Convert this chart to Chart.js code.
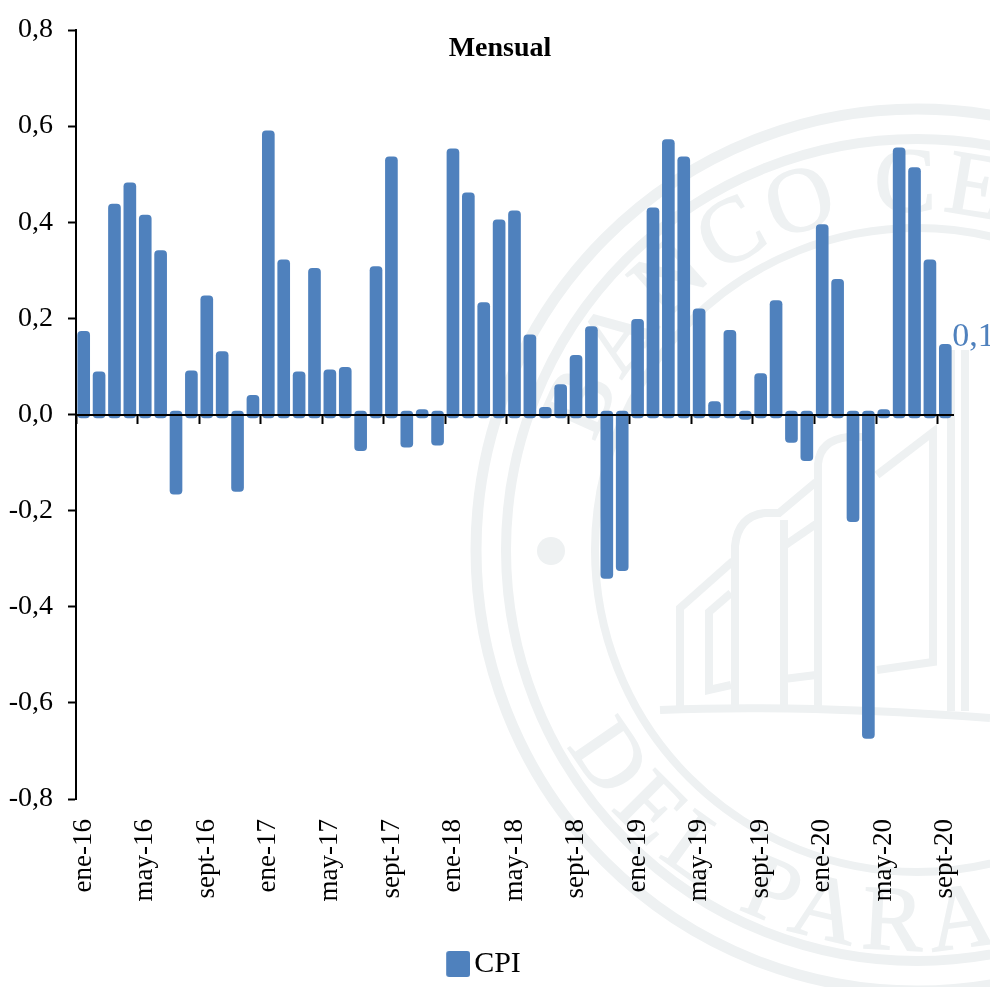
<!DOCTYPE html>
<html lang="es">
<head>
<meta charset="utf-8">
<title>Mensual</title>
<script src="https://cdn.jsdelivr.net/npm/chart.js@4"></script>
<style>
  html, body { margin: 0; background: #fff; }
  #wrap { position: relative; width: 990px; height: 987px; overflow: hidden; }
  #seal { position: absolute; left: 0; top: 0; }
  #seal .ln { fill: none; stroke: #eef1f2; stroke-width: 8; }
  #seal text { fill: #eef1f2; stroke: #eef1f2; stroke-width: 1.5; font-family: "Liberation Serif", serif; font-size: 92px; }
  canvas { position: absolute; left: 0; top: 0; }
</style>
</head>
<body>
<div id="wrap">
  <!-- Wasserzeichen (Siegel) hinter dem Chart -->
  <svg id="seal" width="990" height="987" viewBox="0 0 990 987">
    <defs>
      <path id="arcTop" d="M 578 550 A 339 339 0 0 1 1256 550"/>
      <path id="arcBottom" d="M 517 550 A 400 400 0 0 0 1317 550"/>
    </defs>
    <circle class="ln" style="stroke-width:11" cx="917" cy="550" r="441"/>
    <circle class="ln" style="stroke-width:10" cx="917" cy="550" r="411"/>
    <circle class="ln" cx="917" cy="550" r="322"/>
    <circle cx="551" cy="551" r="14" fill="#eef1f2"/>
    <text letter-spacing="6"><textPath href="#arcTop" startOffset="109">BANCO CENTRAL</textPath></text>
    <text letter-spacing="10"><textPath href="#arcBottom" startOffset="204">DEL PARAGUAY</textPath></text>
    <path class="ln" d="M 660 710 Q 800 704 990 718"/>
    <path class="ln" d="M 680 707 L 680 608 L 733 561"/>
    <path class="ln" d="M 731 593 L 709 612 L 709 690 L 731 685"/>
    <path class="ln" d="M 735 707 L 735 546 Q 738 516 765 513 L 779 513 L 816 482"/>
    <path class="ln" d="M 784 520 L 784 707 M 784 546 L 816 524 M 784 679 L 816 675"/>
    <path class="ln" d="M 818 707 L 818 464 Q 820 440 848 437 L 866 437"/>
    <path class="ln" d="M 877 475 L 933 432 L 933 662 L 877 670"/>
    <path class="ln" d="M 951 711 L 951 350 M 965 711 L 965 350"/>
  </svg>
  <canvas id="chart" width="990" height="987"></canvas>
</div>
<script>
  const months = [
    'ene-16', 'feb-16', 'mar-16', 'abr-16', 'may-16', 'jun-16', 'jul-16', 'ago-16', 'sept-16', 'oct-16', 'nov-16', 'dic-16',
    'ene-17', 'feb-17', 'mar-17', 'abr-17', 'may-17', 'jun-17', 'jul-17', 'ago-17', 'sept-17', 'oct-17', 'nov-17', 'dic-17',
    'ene-18', 'feb-18', 'mar-18', 'abr-18', 'may-18', 'jun-18', 'jul-18', 'ago-18', 'sept-18', 'oct-18', 'nov-18', 'dic-18',
    'ene-19', 'feb-19', 'mar-19', 'abr-19', 'may-19', 'jun-19', 'jul-19', 'ago-19', 'sept-19', 'oct-19', 'nov-19', 'dic-19',
    'ene-20', 'feb-20', 'mar-20', 'abr-20', 'may-20', 'jun-20', 'jul-20', 'ago-20', 'sept-20',
  ];

  const cpi = [
    0.173, 0.089, 0.438, 0.482, 0.415, 0.341, -0.166, 0.091, 0.247, 0.131, -0.16, 0.04,
    0.59, 0.322, 0.089, 0.304, 0.093, 0.098, -0.075, 0.308, 0.536, -0.068, 0.01, -0.064,
    0.553, 0.461, 0.233, 0.405, 0.424, 0.166, 0.015, 0.062, 0.123, 0.183, -0.341, -0.325,
    0.198, 0.43, 0.572, 0.536, 0.22, 0.027, 0.175, -0.01, 0.085, 0.237, -0.058, -0.096,
    0.395, 0.281, -0.223, -0.674, 0.01, 0.555, 0.514, 0.322, 0.146,
  ];

  const BLUE = '#4f81bd';
  const INK = '#000000';
  const SERIF = '"Liberation Serif", serif';
  const LABEL_EVERY = 4;
  // Im Original stehen die Säulen ein paar Pixel über die Nulllinie hinaus.
  const BASE_OVERHANG = 0.007;

  const comma = (value) => value.toFixed(1).replace('.', ',');

  // Legendensymbol: abgerundetes Quadrat, im Canvas nach rechts versetzt,
  // damit die Legende links der Chart-Mitte steht wie im Original.
  const swatch = document.createElement('canvas');
  swatch.width = 49;
  swatch.height = 26;
  const swatchCtx = swatch.getContext('2d');
  swatchCtx.fillStyle = BLUE;
  swatchCtx.beginPath();
  swatchCtx.roundRect(25, 0, 24, 26, 3);
  swatchCtx.fill();

  // Monatstitel und der abgeschnittene Endwert rechts neben der letzten Säule.
  const textLabels = {
    id: 'textLabels',
    afterDatasetsDraw(chart) {
      const { ctx } = chart;
      const bars = chart.getDatasetMeta(0).data;
      const last = bars[bars.length - 1];
      ctx.save();
      ctx.textBaseline = 'alphabetic';
      ctx.fillStyle = INK;
      ctx.textAlign = 'center';
      ctx.font = 'bold 28px ' + SERIF;
      ctx.fillText('Mensual', 500, 56);
      ctx.fillStyle = BLUE;
      ctx.textAlign = 'left';
      ctx.font = '34px ' + SERIF;
      ctx.fillText(comma(cpi[cpi.length - 1]), last.x + 7, last.y + 2);
      ctx.restore();
    },
  };

  new Chart(document.getElementById('chart'), {
    type: 'bar',
    data: {
      labels: months,
      datasets: [
        {
          label: 'CPI',
          data: cpi.map((v) => (v >= 0 ? [-BASE_OVERHANG, v] : [BASE_OVERHANG, v])),
          backgroundColor: BLUE,
          borderRadius: 4,
          borderSkipped: false,
          barThickness: 12,
        },
      ],
    },
    options: {
      responsive: true,
      maintainAspectRatio: false,
      animation: false,
      layout: { padding: { left: 0, right: 37, top: 30, bottom: 1 } },
      plugins: {
        tooltip: { enabled: false },
        legend: {
          position: 'bottom',
          maxHeight: 38,
          labels: {
            usePointStyle: true,
            pointStyle: swatch,
            boxWidth: 27,
            padding: 1,
            color: INK,
            font: { family: SERIF, size: 30 },
          },
        },
      },
      scales: {
        // Beschriftung am unteren Rand
        x: {
          position: 'bottom',
          grid: { display: false },
          border: { display: false },
          afterFit(scale) {
            scale.height = 149;
            scale.paddingLeft = 0;
            scale.paddingRight = 0;
          },
          ticks: {
            autoSkip: false,
            minRotation: 90,
            maxRotation: 90,
            padding: 12,
            color: INK,
            font: { family: SERIF, size: 27 },
            callback(value, index) {
              return index % LABEL_EVERY === 0 ? this.getLabelForValue(value) : '';
            },
          },
        },
        // Nulllinie mit Tickstrichen, über den Säulen
        xZero: {
          axis: 'x',
          type: 'category',
          position: { y: 0 },
          offset: true,
          ticks: { display: false },
          border: { color: INK, width: 2, z: 1 },
          grid: {
            z: 1,
            offset: true,
            drawOnChartArea: false,
            tickLength: 8,
            tickWidth: 2,
            tickColor: (ctx) => (ctx.index % LABEL_EVERY === 0 ? INK : 'rgba(0,0,0,0)'),
          },
        },
        y: {
          min: -0.8,
          max: 0.8,
          afterFit(scale) {
            scale.width = 76;
            scale.paddingTop = 0;
            scale.paddingBottom = 0;
          },
          border: { color: INK, width: 2 },
          grid: { drawOnChartArea: false, tickLength: 8, tickWidth: 2, tickColor: INK },
          ticks: {
            stepSize: 0.2,
            padding: 15,
            color: INK,
            font: { family: SERIF, size: 28 },
            callback: (value) => comma(value),
          },
        },
      },
    },
    plugins: [textLabels],
  });
</script>
</body>
</html>
